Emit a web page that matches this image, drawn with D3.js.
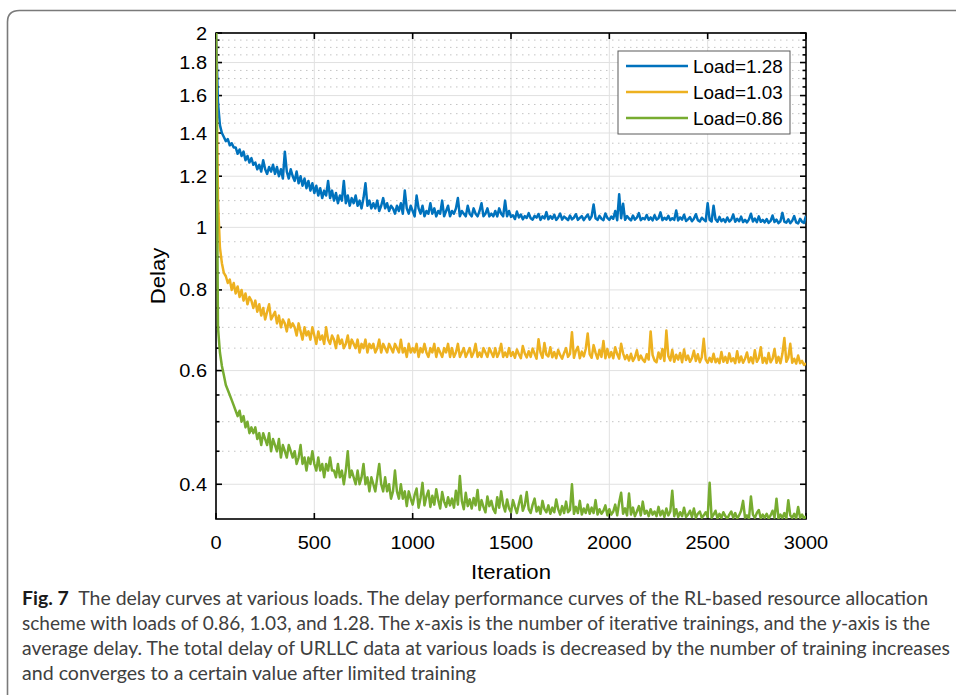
<!DOCTYPE html>
<html>
<head>
<meta charset="utf-8">
<script src="https://cdn.jsdelivr.net/npm/d3@7"></script>
<style>
body { margin: 0; background: #fff; }
svg { display: block; }
</style>
</head>
<body>
<svg id="svg1" width="956" height="695"></svg>
<script>
// one value every 10 iterations
step = 10;
series_names = ["Load=1.28", "Load=1.03", "Load=0.86"];
series_colors = ["#0072BD", "#EDB120", "#77AC30"];
x_ticks = [0, 500, 1000, 1500, 2000, 2500, 3000];
y_ticks = [0.4, 0.6, 0.8, 1, 1.2, 1.4, 1.6, 1.8, 2];
y_tick_labels = ["0.4", "0.6", "0.8", "1", "1.2", "1.4", "1.6", "1.8", "2"];
y_minor_ticks = [0.45, 0.5, 0.55, 0.65, 0.7, 0.75, 0.85, 0.9, 0.95, 1.05, 1.1, 1.15,
	1.25, 1.3, 1.35, 1.45, 1.5, 1.55, 1.65, 1.7, 1.75, 1.85, 1.9, 1.95];
x_label = "Iteration";
y_label = "Delay";

delay_128 = [
2.00,1.56,1.44,1.40,1.38,1.36,1.37,1.34,1.35,1.33,
1.33,1.30,1.32,1.29,1.31,1.27,1.29,1.26,1.28,1.25,
1.26,1.23,1.25,1.22,1.27,1.23,1.21,1.24,1.22,1.25,
1.21,1.24,1.20,1.23,1.19,1.31,1.22,1.19,1.23,1.20,
1.18,1.22,1.17,1.20,1.16,1.19,1.15,1.18,1.14,1.17,
1.13,1.16,1.12,1.15,1.11,1.14,1.12,1.18,1.11,1.14,
1.10,1.13,1.09,1.12,1.10,1.18,1.09,1.12,1.08,1.11,
1.09,1.12,1.08,1.10,1.07,1.11,1.17,1.08,1.10,1.07,
1.09,1.07,1.10,1.06,1.08,1.11,1.07,1.09,1.06,1.08,
1.07,1.05,1.08,1.06,1.09,1.05,1.14,1.07,1.05,1.08,
1.06,1.04,1.12,1.07,1.05,1.08,1.04,1.06,1.05,1.09,
1.05,1.07,1.04,1.06,1.05,1.10,1.04,1.06,1.08,1.04,
1.06,1.05,1.07,1.11,1.04,1.06,1.05,1.04,1.08,1.05,
1.04,1.07,1.05,1.04,1.06,1.09,1.04,1.05,1.07,1.04,
1.05,1.04,1.06,1.04,1.07,1.05,1.04,1.10,1.04,1.06,
1.038,1.044,1.030,1.058,1.036,1.047,1.029,1.041,1.034,1.052,
1.033,1.028,1.042,1.035,1.049,1.027,1.040,1.032,1.056,1.029,
1.041,1.031,1.046,1.027,1.036,1.050,1.028,1.039,1.033,1.026,
1.043,1.029,1.035,1.048,1.027,1.034,1.041,1.026,1.037,1.047,
1.028,1.040,1.085,1.033,1.027,1.042,1.031,1.026,1.051,1.034,
1.027,1.039,1.031,1.060,1.026,1.125,1.033,1.088,1.027,1.041,
1.032,1.025,1.043,1.028,1.035,1.052,1.026,1.034,1.029,1.045,
1.027,1.036,1.025,1.044,1.028,1.033,1.055,1.026,1.035,1.028,
1.042,1.026,1.033,1.027,1.062,1.025,1.036,1.028,1.046,1.023,
1.029,1.037,1.022,1.031,1.048,1.026,1.021,1.035,1.028,1.022,
1.090,1.027,1.021,1.080,1.029,1.020,1.038,1.022,1.030,1.019,
1.036,1.021,1.028,1.047,1.020,1.031,1.022,1.039,1.019,1.027,
1.018,1.029,1.050,1.021,1.032,1.019,1.040,1.020,1.027,1.018,
1.030,1.016,1.023,1.043,1.019,1.028,1.015,1.022,1.053,1.020,
1.017,1.029,1.015,1.024,1.041,1.018,1.014,1.031,1.020,1.016,
1.042
];

delay_103 = [
2.00,1.10,0.93,0.88,0.85,0.84,0.82,0.83,0.80,0.82,
0.79,0.81,0.78,0.80,0.77,0.79,0.76,0.78,0.77,0.75,
0.77,0.74,0.76,0.73,0.75,0.72,0.74,0.76,0.72,0.73,
0.74,0.71,0.73,0.70,0.72,0.71,0.69,0.72,0.70,0.71,
0.70,0.68,0.71,0.69,0.67,0.70,0.68,0.69,0.67,0.70,
0.68,0.66,0.69,0.67,0.68,0.66,0.70,0.67,0.66,0.68,
0.67,0.65,0.68,0.66,0.67,0.65,0.66,0.68,0.65,0.67,
0.66,0.65,0.67,0.64,0.66,0.65,0.67,0.64,0.66,0.65,
0.66,0.64,0.65,0.67,0.64,0.66,0.65,0.64,0.66,0.65,
0.64,0.66,0.65,0.64,0.67,0.64,0.65,0.63,0.66,0.64,
0.65,0.64,0.66,0.63,0.65,0.64,0.66,0.64,0.63,0.65,
0.64,0.66,0.63,0.65,0.64,0.63,0.65,0.64,0.66,0.63,
0.65,0.63,0.64,0.66,0.63,0.64,0.65,0.63,0.64,0.65,
0.63,0.64,0.66,0.63,0.64,0.63,0.65,0.64,0.63,0.65,
0.64,0.63,0.65,0.63,0.64,0.66,0.63,0.64,0.63,0.65,
0.632,0.641,0.628,0.647,0.636,0.627,0.655,0.638,0.629,0.643,
0.630,0.649,0.637,0.626,0.671,0.640,0.628,0.662,0.635,0.631,
0.652,0.629,0.641,0.627,0.646,0.634,0.626,0.639,0.650,0.630,
0.637,0.688,0.628,0.644,0.653,0.627,0.642,0.631,0.648,0.685,
0.636,0.628,0.657,0.639,0.626,0.646,0.630,0.667,0.627,0.648,
0.629,0.641,0.627,0.652,0.636,0.626,0.660,0.638,0.625,0.634,
0.622,0.637,0.621,0.629,0.645,0.623,0.633,0.624,0.619,0.636,
0.624,0.690,0.634,0.622,0.618,0.640,0.626,0.648,0.621,0.692,
0.632,0.622,0.646,0.619,0.635,0.624,0.639,0.618,0.647,0.623,
0.633,0.619,0.627,0.644,0.621,0.636,0.618,0.629,0.672,0.624,
0.617,0.628,0.619,0.637,0.618,0.626,0.616,0.641,0.619,0.630,
0.617,0.638,0.620,0.627,0.616,0.643,0.618,0.631,0.617,0.626,
0.640,0.618,0.629,0.616,0.645,0.619,0.627,0.652,0.617,0.628,
0.616,0.639,0.618,0.626,0.648,0.617,0.630,0.616,0.637,0.674,
0.619,0.628,0.660,0.617,0.626,0.615,0.633,0.616,0.621,0.612,
0.616
];

delay_086 = [
2.00,0.70,0.64,0.61,0.59,0.57,0.56,0.55,0.54,0.53,
0.52,0.51,0.52,0.50,0.51,0.49,0.50,0.48,0.49,0.48,
0.49,0.47,0.48,0.46,0.48,0.47,0.46,0.48,0.45,0.47,
0.46,0.45,0.47,0.44,0.46,0.45,0.44,0.46,0.45,0.44,
0.45,0.43,0.44,0.46,0.43,0.44,0.42,0.44,0.43,0.45,
0.43,0.42,0.44,0.42,0.43,0.41,0.43,0.42,0.44,0.42,
0.42,0.41,0.43,0.41,0.42,0.40,0.42,0.45,0.41,0.42,
0.41,0.40,0.42,0.40,0.41,0.43,0.40,0.41,0.39,0.41,
0.40,0.39,0.41,0.43,0.40,0.39,0.41,0.39,0.40,0.38,
0.39,0.42,0.39,0.38,0.40,0.38,0.39,0.37,0.39,0.38,
0.372,0.385,0.394,0.368,0.381,0.402,0.371,0.383,0.391,0.369,
0.384,0.372,0.393,0.378,0.367,0.389,0.376,0.369,0.382,0.371,
0.380,0.368,0.391,0.372,0.412,0.377,0.366,0.388,0.370,0.379,
0.367,0.381,0.371,0.392,0.365,0.378,0.369,0.362,0.383,0.370,
0.377,0.366,0.361,0.382,0.368,0.390,0.372,0.363,0.379,0.367,
0.362,0.378,0.369,0.361,0.373,0.384,0.364,0.371,0.389,0.366,
0.361,0.372,0.380,0.363,0.369,0.360,0.377,0.366,0.362,0.371,
0.360,0.368,0.362,0.379,0.366,0.359,0.370,0.361,0.376,0.362,
0.365,0.400,0.360,0.369,0.361,0.377,0.359,0.367,0.361,0.372,
0.360,0.368,0.361,0.378,0.359,0.366,0.360,0.364,0.371,0.358,
0.366,0.359,0.363,0.372,0.358,0.375,0.388,0.360,0.367,0.358,
0.387,0.359,0.368,0.357,0.363,0.370,0.358,0.376,0.360,0.364,
0.357,0.366,0.359,0.363,0.357,0.369,0.358,0.364,0.356,0.367,
0.358,0.363,0.391,0.357,0.366,0.356,0.362,0.357,0.368,0.356,
0.359,0.364,0.356,0.367,0.355,0.360,0.363,0.355,0.358,0.362,
0.356,0.402,0.355,0.359,0.364,0.354,0.360,0.355,0.362,0.357,
0.354,0.359,0.363,0.355,0.361,0.354,0.358,0.364,0.377,0.355,
0.358,0.354,0.383,0.359,0.355,0.361,0.365,0.354,0.359,0.355,
0.360,0.354,0.358,0.364,0.355,0.380,0.354,0.359,0.355,0.361,
0.354,0.378,0.358,0.355,0.360,0.354,0.369,0.355,0.359,0.354,
0.357
];

caption_lines = [
	[["Fig. 7", "b"], ["  The delay curves at various loads. The delay performance curves of the RL-based resource allocation", ""]],
	[["scheme with loads of 0.86, 1.03, and 1.28. The ", ""], ["x", "i"], ["-axis is the number of iterative trainings, and the ", ""], ["y", "i"], ["-axis is the", ""]],
	[["average delay. The total delay of URLLC data at various loads is decreased by the number of training increases", ""]],
	[["and converges to a certain value after limited training", ""]]
];

settings = {
	left: 216,
	top: 33,
	width: 590,
	height: 486,
	font: "'Liberation Sans', Arial, Helvetica, sans-serif",
	tick_size: 18.5,
	text_stretch: 1.08
}

svg = d3.select("#svg1");

// figure frame
svg.append("path")
	.attr("d", "M7.5,700 L7.5,22 Q7.5,10.5 19.5,10.5 L960,10.5")
	.attr("fill", "none")
	.attr("stroke", "#7a7a7a")
	.attr("stroke-width", 1.6);

var x = d3.scaleLinear().domain([0, 3000]).range([settings.left, settings.left + settings.width]);
var y = d3.scaleLog().domain([0.3534, 2]).range([settings.top + settings.height, settings.top]);

x0 = settings.left; x1 = settings.left + settings.width;
y0 = settings.top + settings.height; y1 = settings.top;

grid = svg.append("g");
grid.selectAll(".gx").data(x_ticks).enter().append("line")
	.attr("x1", d => x(d)).attr("x2", d => x(d))
	.attr("y1", y0).attr("y2", y1)
	.attr("stroke", "#e1e1e1").attr("stroke-width", 1);
grid.selectAll(".gym").data(y_minor_ticks).enter().append("line")
	.attr("x1", x0).attr("x2", x1)
	.attr("y1", d => y(d)).attr("y2", d => y(d))
	.attr("stroke", "#c4c4c4").attr("stroke-width", 1)
	.attr("stroke-dasharray", "1.5,4.5");
grid.selectAll(".gy").data(y_ticks).enter().append("line")
	.attr("x1", x0).attr("x2", x1)
	.attr("y1", d => y(d)).attr("y2", d => y(d))
	.attr("stroke", "#e1e1e1").attr("stroke-width", 1);

// box + inward ticks
axes = svg.append("g").attr("stroke", "#000").attr("stroke-width", 1.6);
axes.append("rect")
	.attr("x", x0).attr("y", y1)
	.attr("width", settings.width).attr("height", settings.height)
	.attr("fill", "none");
x_ticks.forEach(function(t) {
	axes.append("line").attr("x1", x(t)).attr("x2", x(t)).attr("y1", y0).attr("y2", y0 - 6);
	axes.append("line").attr("x1", x(t)).attr("x2", x(t)).attr("y1", y1).attr("y2", y1 + 6);
});
y_ticks.forEach(function(t) {
	axes.append("line").attr("x1", x0).attr("x2", x0 + 6).attr("y1", y(t)).attr("y2", y(t));
	axes.append("line").attr("x1", x1).attr("x2", x1 - 6).attr("y1", y(t)).attr("y2", y(t));
});
y_minor_ticks.forEach(function(t) {
	axes.append("line").attr("x1", x0).attr("x2", x0 + 3.5).attr("y1", y(t)).attr("y2", y(t));
	axes.append("line").attr("x1", x1).attr("x2", x1 - 3.5).attr("y1", y(t)).attr("y2", y(t));
});

labels = svg.append("g")
	.attr("font-family", settings.font)
	.attr("font-size", settings.tick_size)
	.attr("fill", "#000");
labels.selectAll(".xl").data(x_ticks).enter().append("text")
	.attr("transform", d => "translate(" + x(d) + "," + 549 + ") scale(" + settings.text_stretch + ",1)")
	.attr("text-anchor", "middle")
	.text(d => d);
labels.selectAll(".yl").data(y_ticks).enter().append("text")
	.attr("transform", d => "translate(" + 207 + "," + (y(d) + 6.5) + ") scale(" + settings.text_stretch + ",1)")
	.attr("text-anchor", "end")
	.text((d, i) => y_tick_labels[i]);
labels.append("text")
	.attr("transform", "translate(" + ((x0 + x1) / 2) + ",579) scale(" + settings.text_stretch + ",1)")
	.attr("text-anchor", "middle")
	.attr("font-size", 20.5)
	.text(x_label);
labels.append("text")
	.attr("transform", "translate(165," + ((y0 + y1) / 2) + ") rotate(-90) scale(" + settings.text_stretch + ",1)")
	.attr("text-anchor", "middle")
	.attr("font-size", 20.5)
	.text(y_label);

// curves
svg.append("clipPath").attr("id", "plotclip")
	.append("rect").attr("x", x0).attr("y", y1 - 1).attr("width", settings.width).attr("height", settings.height + 1);

all_series = [delay_128, delay_103, delay_086];
line = d3.line()
	.x((d, i) => x(i * step))
	.y(d => y(d));
svg.append("g").attr("clip-path", "url(#plotclip)")
	.selectAll("path").data(all_series).enter().append("path")
	.attr("d", d => line(d))
	.attr("fill", "none")
	.attr("stroke", (d, i) => series_colors[i])
	.attr("stroke-width", 2.5)
	.attr("stroke-linejoin", "round");

// legend
legend = svg.append("g").attr("transform", "translate(618,51)");
legend.append("rect")
	.attr("x", 0).attr("y", 0).attr("width", 172).attr("height", 83)
	.attr("fill", "#fff").attr("stroke", "#5a5a5a").attr("stroke-width", 1);
series_names.forEach(function(name, i) {
	legend.append("line")
		.attr("x1", 8).attr("x2", 70)
		.attr("y1", 15 + i * 26).attr("y2", 15 + i * 26)
		.attr("stroke", series_colors[i]).attr("stroke-width", 2.4);
	legend.append("text")
		.attr("transform", "translate(75," + (22 + i * 26) + ") scale(1.05,1)")
		.attr("font-family", settings.font)
		.attr("font-size", 18)
		.attr("fill", "#000")
		.text(name);
});

// caption
caption_widths = [906, 908, 928, 454];
caption = svg.append("g")
	.attr("font-family", "Lato, 'Open Sans', sans-serif")
	.attr("font-size", 18.5)
	.attr("fill", "#404040");
caption_lines.forEach(function(parts, i) {
	t = caption.append("text")
		.attr("x", 22).attr("y", 605 + i * 25)
		.attr("textLength", caption_widths[i])
		.attr("lengthAdjust", "spacingAndGlyphs")
		.style("white-space", "pre");
	parts.forEach(function(p) {
		s = t.append("tspan").text(p[0]);
		if (p[1] == "b") s.attr("font-weight", 700).attr("fill", "#1a1a1a");
		if (p[1] == "i") s.attr("font-style", "italic");
	});
});
</script>
</body>
</html>
